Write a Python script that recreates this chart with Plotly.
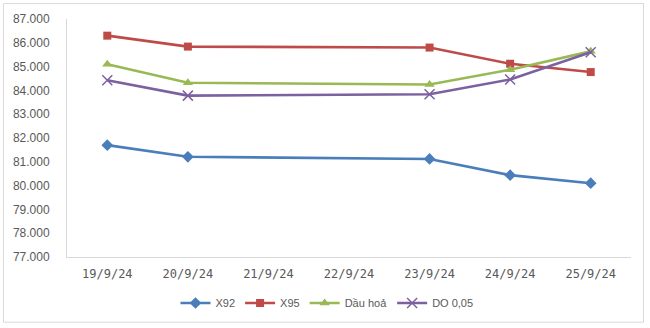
import plotly.graph_objects as go

dates = ["19/9/24", "20/9/24", "21/9/24", "22/9/24", "23/9/24", "24/9/24", "25/9/24"]
x92 = [81700, 81210, None, None, 81120, 80440, 80100]
x95 = [86300, 85840, None, None, 85800, 85120, 84770]
dau_hoa = [85100, 84320, None, None, 84250, 84870, 85640]
do005 = [84430, 83780, None, None, 83840, 84460, 85600]
y_ticks = list(range(77000, 88000, 1000))

series = [
    ("X92", x92, "#4A7EBB", dict(symbol="diamond", size=9)),
    ("X95", x95, "#BE4B48", dict(symbol="square", size=8)),
    ("Dầu hoả", dau_hoa, "#98B954", dict(symbol="triangle-up", size=9)),
    ("DO 0,05", do005, "#7D60A0", dict(symbol="x-thin", size=10, line=dict(width=1.5, color="#7D60A0"))),
]

fig = go.Figure()
for name, vals, col, mk in series:
    m = dict(color=col, **mk)
    fig.add_trace(go.Scatter(
        x=dates, y=vals, name=name, mode="lines+markers",
        connectgaps=True, line=dict(color=col, width=2.6), marker=m,
    ))

W, H = 650, 328
L, R, T, B = 67, 19, 19, 70
pw, ph = W - L - R, H - T - B

def px_x(p):
    return (p - L) / pw

def px_y(p):
    return (H - B - p) / ph

fig.update_layout(
    width=W, height=H,
    margin=dict(l=L, r=R, t=T, b=B),
    paper_bgcolor="white", plot_bgcolor="white",
    separators=",.",
    showlegend=True,
    legend=dict(orientation="h", x=px_x(327), xanchor="center", y=px_y(303), yanchor="middle",
                font=dict(family="Liberation Sans", size=11, color="#595959"),
                itemwidth=30, tracegroupgap=0),
    shapes=[dict(type="rect", xref="paper", yref="paper",
                 x0=px_x(3.5), x1=px_x(643.5), y0=px_y(323.5), y1=px_y(3.5),
                 line=dict(color="#D9D9D9", width=1), layer="below")],
)
fig.update_xaxes(
    type="category", range=[-0.5, 6.5], showgrid=False, zeroline=False,
    showline=True, linecolor="#D9D9D9", linewidth=1,
    tickfont=dict(family="DejaVu Sans Mono", size=12, color="#595959"),
    ticks="", ticklabelstandoff=6,
)
fig.update_yaxes(
    range=[77000, 87000], tickvals=y_ticks, tickformat=",d",
    showgrid=False, zeroline=False,
    showline=True, linecolor="#D9D9D9", linewidth=1,
    tickfont=dict(family="Liberation Sans", size=12, color="#595959"),
    ticks="", ticklabelstandoff=14,
)

fig.write_html("out.html")
